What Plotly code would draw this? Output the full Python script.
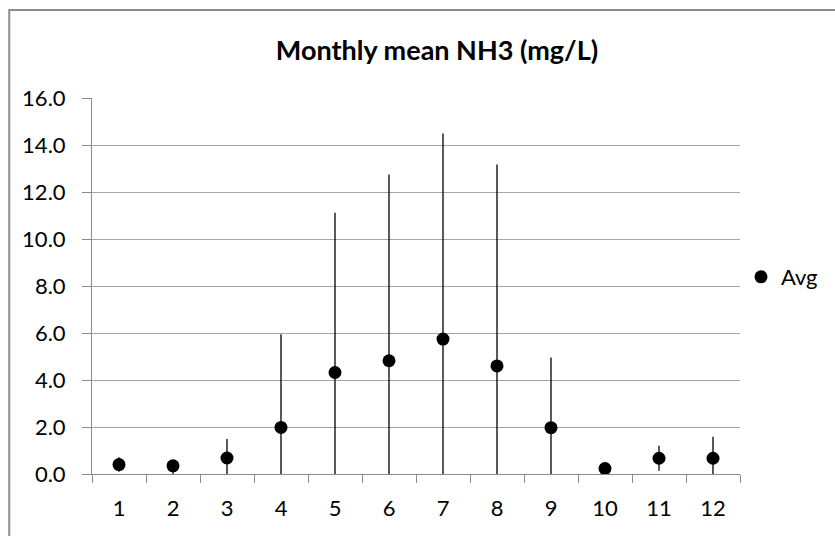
import plotly.graph_objects as go

# Monthly ammonia (NH3) summary, mg/L
months = ["1", "2", "3", "4", "5", "6", "7", "8", "9", "10", "11", "12"]
avg = [0.40, 0.35, 0.68, 1.98, 4.32, 4.82, 5.74, 4.60, 1.97, 0.23, 0.67, 0.67]
high = [0.71, 0.60, 1.49, 5.95, 11.12, 12.75, 14.49, 13.17, 4.96, 0.40, 1.20, 1.58]
low = [0.10, 0.00, 0.00, 0.00, 0.00, 0.00, 0.00, 0.00, 0.00, 0.10, 0.14, 0.00]

y_ticks = [0, 2, 4, 6, 8, 10, 12, 14, 16]

err_plus = [h - a for h, a in zip(high, avg)]
err_minus = [a - l for a, l in zip(avg, low)]

FONT = "Lato"
GRID = "#a6a6a6"
AXIS = "#8c8c8c"

fig = go.Figure()
fig.add_trace(go.Scatter(
    x=months,
    y=avg,
    mode="markers",
    name="Avg",
    marker=dict(symbol="circle", size=13, color="#000000"),
    error_y=dict(
        type="data",
        symmetric=False,
        array=err_plus,
        arrayminus=err_minus,
        color="#000000",
        thickness=1.3,
        width=0,
    ),
))

W, H = 835, 536
L, R, T, B = 92, 93, 98, 62
pw, ph = W - L - R, H - T - B

def px_x(px):
    return (px - L) / pw

def px_y(py):
    return (H - B - py) / ph

fig.update_layout(
    width=W,
    height=H,
    margin=dict(l=L, r=R, t=T, b=B, pad=0),
    paper_bgcolor="#ffffff",
    plot_bgcolor="#ffffff",
    font=dict(family=FONT, size=22, color="#000000"),
    title=dict(
        text="<b>Monthly mean NH3 (mg/L)</b>",
        x=437 / W,
        xanchor="center",
        y=1 - 51 / H,
        yanchor="middle",
        font=dict(family=FONT, size=27, color="#000000"),
    ),
    showlegend=True,
    legend=dict(
        x=px_x(743),
        xanchor="left",
        y=px_y(277),
        yanchor="middle",
        bgcolor="rgba(0,0,0,0)",
        borderwidth=0,
        font=dict(family=FONT, size=22, color="#000000"),
    ),
    xaxis=dict(
        type="category",
        categoryorder="array",
        categoryarray=months,
        range=[-0.5, len(months) - 0.5],
        showgrid=False,
        zeroline=False,
        showline=True,
        linecolor=AXIS,
        linewidth=1,
        ticks="outside",
        tickson="boundaries",
        ticklen=8,
        tickcolor=AXIS,
        tickwidth=1,
        ticklabelstandoff=15,
        tickfont=dict(family=FONT, size=22, color="#000000"),
    ),
    yaxis=dict(
        range=[0, 16],
        tickvals=y_ticks,
        tickformat=".1f",
        showgrid=True,
        gridcolor=GRID,
        gridwidth=1,
        zeroline=False,
        showline=True,
        linecolor=AXIS,
        linewidth=1,
        ticks="outside",
        ticklen=9,
        tickcolor=AXIS,
        tickwidth=1,
        ticklabelstandoff=12,
        tickfont=dict(family=FONT, size=22, color="#000000"),
    ),
    shapes=[
        # chart-area frame (runs past the right and bottom edges)
        dict(
            type="rect",
            xref="paper",
            yref="paper",
            x0=px_x(9),
            y0=px_y(560),
            x1=px_x(860),
            y1=px_y(10),
            line=dict(color=AXIS, width=2),
            fillcolor="rgba(0,0,0,0)",
            layer="below",
        )
    ],
)

fig.write_html("out.html")
